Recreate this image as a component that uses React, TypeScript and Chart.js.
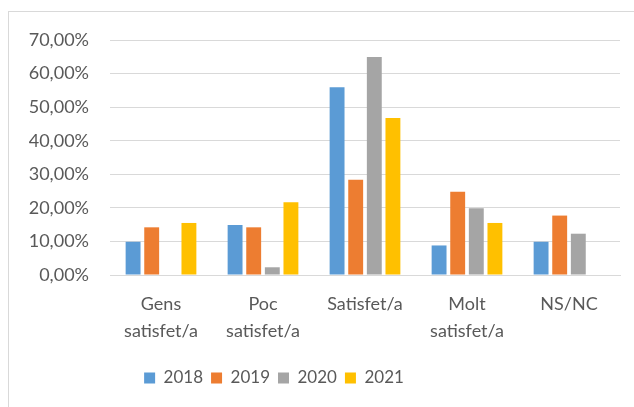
import React, { useEffect, useRef } from "react";
import { Chart, registerables } from "chart.js";

Chart.register(...registerables);

const categories: string[][] = [
  ["Gens", "satisfet/a"],
  ["Poc", "satisfet/a"],
  ["Satisfet/a"],
  ["Molt", "satisfet/a"],
  ["NS/NC"],
];
const years = ["2018", "2019", "2020", "2021"];
const values2018 = [9.9, 14.9, 55.9, 8.8, 9.9];
const values2019 = [14.2, 14.2, 28.4, 24.8, 17.7];
const values2020 = [null, 2.3, 64.9, 19.9, 12.3];
const values2021 = [15.5, 21.7, 46.8, 15.5, null];
const colors = ["#5B9BD5", "#ED7D31", "#A5A5A5", "#FFC000"];
const yTicks = [0, 10, 20, 30, 40, 50, 60, 70];

const FONT = "Lato, 'Open Sans', sans-serif";
const TEXT = "#595959";

const frame = {
  id: "frame",
  beforeDraw(chart: any) {
    const ctx = chart.ctx;
    ctx.save();
    ctx.strokeStyle = "#d9d9d9";
    ctx.lineWidth = 1;
    ctx.strokeRect(8.5, 11.5, 800, 600);
    ctx.restore();
  },
};

const legendShift = {
  id: "legendShift",
  afterLayout(chart: any) {
    const l = chart.legend;
    if (l) {
      l.left -= 36;
      l.right -= 36;
    }
  },
};

export default function App() {
  const ref = useRef<HTMLCanvasElement>(null);
  useEffect(() => {
    if (!ref.current) return;
    const series = [values2018, values2019, values2020, values2021];
    const chart = new Chart(ref.current, {
      type: "bar",
      data: {
        labels: categories,
        datasets: years.map((y, i) => ({
          label: y,
          data: series[i],
          backgroundColor: colors[i],
          borderWidth: 0,
          categoryPercentage: 0.73,
          barPercentage: 0.8,
        })),
      },
      plugins: [frame, legendShift],
      options: {
        responsive: false,
        animation: false,
        layout: { padding: { top: 40, right: 14, bottom: 10.5, left: 0 } },
        plugins: {
          legend: {
            position: "bottom",
            labels: {
              boxWidth: 11,
              boxHeight: 11,
              padding: 8,
              color: TEXT,
              font: { family: FONT, size: 17 },
            },
          },
          tooltip: { enabled: false },
        },
        scales: {
          x: {
            grid: { display: false, drawTicks: false },
            border: { display: true, color: "#d9d9d9", width: 1 },
            ticks: {
              color: TEXT,
              padding: 16,
              maxRotation: 0,
              font: { family: FONT, size: 18, lineHeight: 1.5 },
            },
            afterFit(scale: any) {
              scale.height = 86.5;
            },
          },
          y: {
            min: 0,
            max: 70,
            afterBuildTicks(scale: any) {
              scale.ticks = yTicks.map((v) => ({ value: v }));
            },
            grid: { color: "#d9d9d9", lineWidth: 1, drawTicks: false },
            border: { display: false },
            ticks: {
              color: TEXT,
              padding: 21,
              font: { family: FONT, size: 18 },
              callback: (v: any) => Number(v).toFixed(2).replace(".", ",") + "%",
            },
            afterFit(scale: any) {
              scale.width = 110;
            },
          },
        },
      },
    });
    return () => chart.destroy();
  }, []);
  return (
    <div style={{ position: "absolute", left: 0, top: 0, width: 634, height: 407, background: "#fff" }}>
      <canvas ref={ref} width={634} height={407} style={{ display: "block", width: 634, height: 407 }} />
    </div>
  );
}
